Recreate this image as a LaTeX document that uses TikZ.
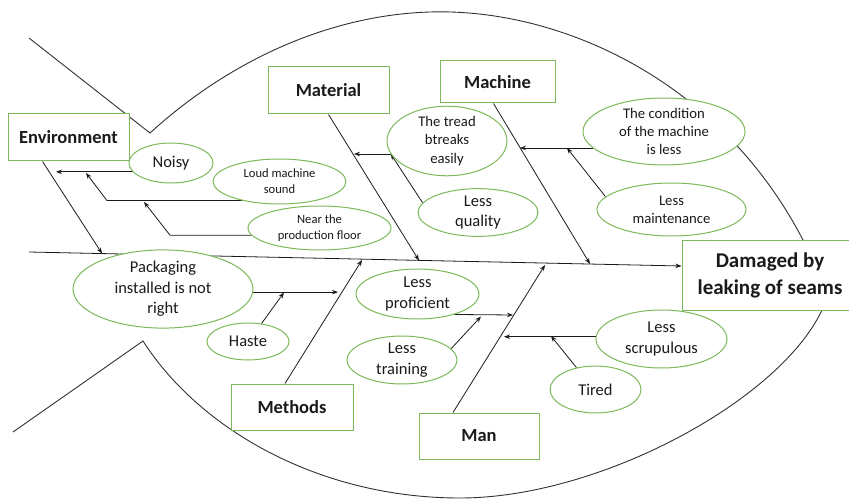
\documentclass[tikz,border=0pt]{standalone}
\usepackage{fontspec}
\setmainfont{Carlito}
\usetikzlibrary{shapes.geometric,arrows.meta,calc}
\pgfdeclarelayer{bg}
\pgfsetlayers{bg,main}
\definecolor{leaf}{HTML}{7DB85A}
\definecolor{ink}{HTML}{1A1A1A}
\begin{document}
\begin{tikzpicture}[x=1pt,y=-1pt,
  cat/.style={draw=leaf,line width=1pt,fill=white,rectangle,inner sep=0pt,align=center,text=ink,
    font=\fontsize{18.5}{22}\selectfont\bfseries},
  cause/.style={draw=leaf,line width=1pt,fill=white,ellipse,inner sep=0pt,align=center,text=ink},
  big/.style={font=\fontsize{16.5}{20.5}\selectfont},
  mid/.style={font=\fontsize{14.7}{18.3}\selectfont},
  small/.style={font=\fontsize{12.6}{16.2}\selectfont},
  arr/.style={draw=ink,line width=0.8pt,-{Stealth[length=6pt,width=4.5pt]}},
  outline/.style={draw=ink!90,line width=0.9pt}]
\useasboundingbox (0,0) rectangle (849,500);

% category boxes and the effect
\node[cat,minimum width=121,minimum height=47] (env)  at (68.5,137.5) {Environment};
\node[cat,minimum width=121,minimum height=47] (mat)  at (328.5,90.5) {Material};
\node[cat,minimum width=115,minimum height=42] (mach) at (497.5,82) {Machine};
\node[cat,minimum width=122,minimum height=46] (meth) at (292,407) {Methods};
\node[cat,minimum width=120,minimum height=46] (man)  at (479,436) {Man};
\node[cat,minimum width=176,minimum height=70,font=\fontsize{21}{27}\selectfont\bfseries] (dmg) at (770,275)
  {Damaged by\\leaking of seams};

% causes
\node[cause,big,minimum width=84,minimum height=40]   (noisy) at (171,163) {Noisy};
\node[cause,small,minimum width=133,minimum height=45] (loud) at (279.5,181.5) {Loud machine\\sound};
\node[cause,small,minimum width=143,minimum height=44] (near) at (319.5,228) {Near the\\production floor};
\node[cause,mid,minimum width=120,minimum height=62]  (tread) at (447,141) {The tread\\btreaks\\easily};
\node[cause,big,minimum width=120,minimum height=47]  (lessq) at (478,212.5) {Less\\quality};
\node[cause,mid,minimum width=162,minimum height=67]  (cond)  at (664,131.5) {The condition\\of the machine\\is less};
\node[cause,mid,minimum width=149,minimum height=53]  (maint) at (671.5,209.5) {Less\\maintenance};
\node[cause,big,minimum width=180,minimum height=64]  (pack)  at (163,289) {Packaging\\installed is not\\right};
\node[cause,big,minimum width=82,minimum height=37]   (haste) at (248,341.5) {Haste};
\node[cause,big,minimum width=123,minimum height=50]  (prof)  at (417.5,294) {Less\\proficient};
\node[cause,big,minimum width=110,minimum height=46]  (train) at (402,360) {Less\\training};
\node[cause,big,minimum width=131,minimum height=58]  (scrup) at (661.5,339) {Less\\scrupulous};
\node[cause,big,minimum width=91,minimum height=47]   (tired) at (595.5,389.5) {Tired};

% points where arrows meet the spine and the bones
\coordinate (tail)    at (29,252);
\coordinate (envhit)  at (102,253.5);
\coordinate (mathit)  at (419,260.5);
\coordinate (machhit) at (590,264);
\coordinate (methhit) at (362,260);
\coordinate (manhit)  at (545,265);
\coordinate (envA)  at (56,0);
\coordinate (envB)  at (86,173);
\coordinate (loudK) at (107,0);
\coordinate (loudT) at (144,202);
\coordinate (nearK) at (170,0);
\coordinate (matA)  at (354,0);
\coordinate (machA) at (520,0);
\coordinate (machB) at (567,148);
\coordinate (methA) at (338,0);
\coordinate (methB) at (284,292.5);
\coordinate (manA)  at (513,315);
\coordinate (manB)  at (481,316.5);
\coordinate (manC)  at (504,0);
\coordinate (manD)  at (551,336);

\begin{pgfonlayer}{bg}
  % fish body
  \draw[outline] (29,38) -- (150,133) .. controls (230,60) and (330,15) .. (430,12)
    .. controls (560,8) and (720,80) .. (803,240);
  \draw[outline] (13,432) -- (143,341) .. controls (200,430) and (320,498) .. (460,498)
    .. controls (600,498) and (780,400) .. (822,310);

  % spine and main bones
  \draw[arr] (tail) -- ($(dmg.west)+(0,-9)$);
  \draw[arr] ($(env.south)+(-26,0)$) -- (envhit);
  \draw[arr] (mat.south) -- (mathit);
  \draw[arr] ($(mach.south)+(-4,0)$) -- (machhit);
  \draw[arr] ($(meth.north)+(-7,0)$) -- (methhit);
  \draw[arr] ($(man.north)+(-26,0)$) -- (manhit);

  % environment causes
  \draw[arr] (noisy.193) -- (noisy.193 -| envA);
  \draw[arr] (loud.207) -- (loud.207 -| loudK) -- (envB);
  \draw[arr] (near.186) -- (near.186 -| nearK) -- (loudT);

  % material causes
  \draw[arr] (tread.193) -- (tread.193 -| matA);
  \draw[arr] (lessq.170) -- (tread.193);

  % machine causes
  \draw[arr] (cond.193) -- (cond.193 -| machA);
  \draw[arr] (maint.169) -- (machB);

  % method causes
  \draw[arr] (pack.358) -- (pack.358 -| methA);
  \draw[arr] (haste.53) -- (methB);

  % man causes
  \draw[arr] (prof.331) -- (manA);
  \draw[arr] (train.13) -- (manB);
  \draw[arr] (scrup.178) -- (scrup.178 -| manC);
  \draw[arr] (tired.131) -- (manD);
\end{pgfonlayer}
\end{tikzpicture}
\end{document}
